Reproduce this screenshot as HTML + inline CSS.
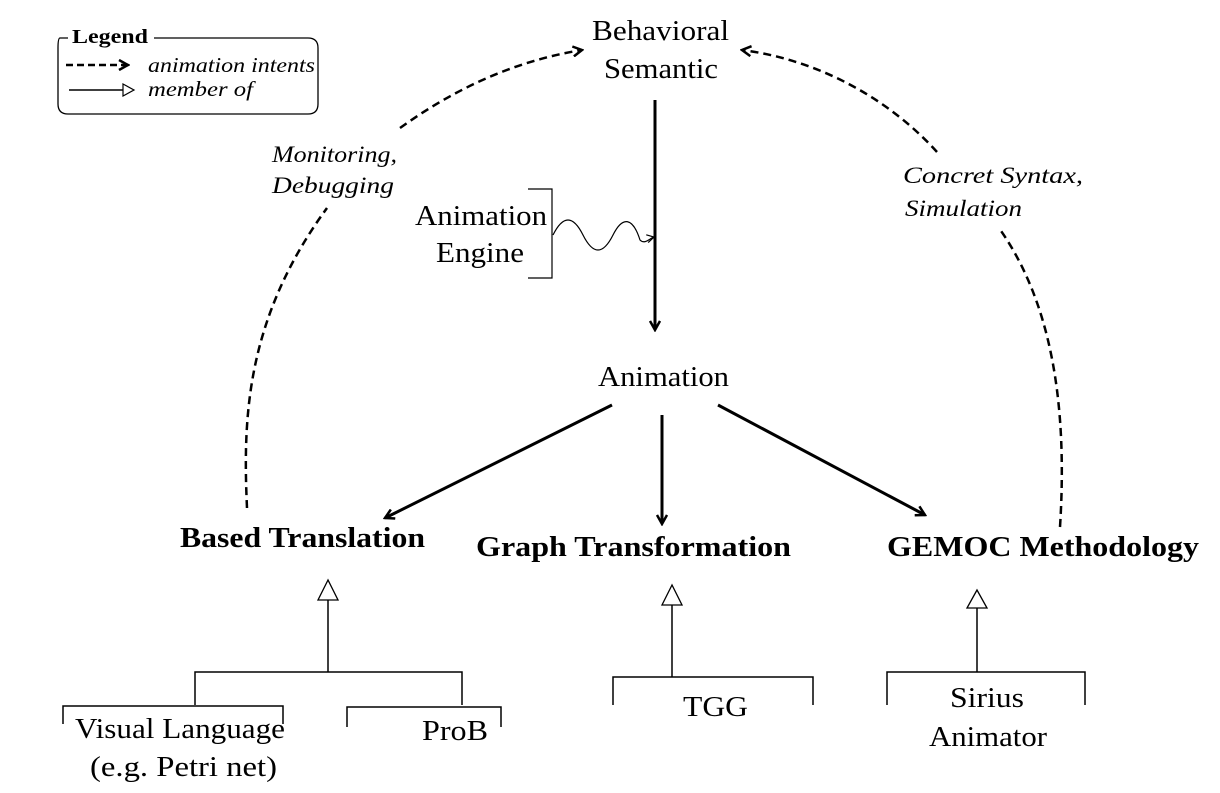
<!DOCTYPE html>
<html><head><meta charset="utf-8"><style>
html,body{margin:0;padding:0;background:#fff;}
svg{display:block;}
text{font-family:"Liberation Serif",serif;fill:#000;}
</style></head><body>
<svg width="1220" height="793" viewBox="0 0 1220 793" xmlns="http://www.w3.org/2000/svg">
<defs>
<marker id="open" markerWidth="12" markerHeight="12" refX="10" refY="6" orient="auto" markerUnits="userSpaceOnUse"><path d="M1,1 L10,6 L1,11" fill="none" stroke="#000" stroke-width="2.5"/></marker>
<marker id="small" markerWidth="10" markerHeight="10" refX="9" refY="5" orient="auto" markerUnits="userSpaceOnUse"><path d="M2,1 L9,5 L2,9" fill="none" stroke="#000" stroke-width="1.2"/></marker>
</defs>
<!-- Legend -->
<path d="M68,38 L60,38 Q58,38 58,48 L58,104 Q58,114 68,114 L308,114 Q318,114 318,104 L318,48 Q318,38 308,38 L154,38" fill="none" stroke="#000" stroke-width="1.3"/>
<text x="72" y="43" font-size="20" font-weight="bold" textLength="76" lengthAdjust="spacingAndGlyphs">Legend</text>
<line x1="66" y1="65" x2="128" y2="65" stroke="#000" stroke-width="2.5" stroke-dasharray="7,4" marker-end="url(#open)"/>
<line x1="69" y1="90" x2="123" y2="90" stroke="#000" stroke-width="1.5"/>
<path d="M123,84 L134,90 L123,96 Z" fill="#fff" stroke="#000" stroke-width="1.2"/>
<text x="148" y="72" font-size="21" font-style="italic" textLength="167" lengthAdjust="spacingAndGlyphs">animation intents</text>
<text x="148" y="96" font-size="21" font-style="italic" textLength="105" lengthAdjust="spacingAndGlyphs">member of</text>
<!-- Top -->
<text x="592" y="40" font-size="28" textLength="137" lengthAdjust="spacingAndGlyphs">Behavioral</text>
<text x="604" y="78" font-size="28" textLength="114" lengthAdjust="spacingAndGlyphs">Semantic</text>
<line x1="655" y1="100" x2="655" y2="330" stroke="#000" stroke-width="3" marker-end="url(#open)"/>
<text x="415" y="225" font-size="28" textLength="132" lengthAdjust="spacingAndGlyphs">Animation</text>
<text x="436" y="262" font-size="28" textLength="88" lengthAdjust="spacingAndGlyphs">Engine</text>
<path d="M528,189 L552,189 L552,278 L528,278" fill="none" stroke="#000" stroke-width="1.2"/>
<path d="M553,235 C563,215 573,215 583,235 C593,255 603,255 613,235 C623,215 633,218 640,240 C645,245 650,238 654,237" fill="none" stroke="#000" stroke-width="1.2" marker-end="url(#small)"/>
<text x="598" y="386" font-size="28" textLength="131" lengthAdjust="spacingAndGlyphs">Animation</text>
<line x1="612" y1="405" x2="385" y2="518" stroke="#000" stroke-width="3" marker-end="url(#open)"/>
<line x1="662" y1="415" x2="662" y2="524" stroke="#000" stroke-width="3" marker-end="url(#open)"/>
<line x1="718" y1="405" x2="925" y2="515" stroke="#000" stroke-width="3" marker-end="url(#open)"/>
<!-- dashed arcs -->
<path d="M247,508 C243,420 245,320 327,208" fill="none" stroke="#000" stroke-width="2.5" stroke-dasharray="8,5"/>
<path d="M400,128 C460,85 520,60 582,50" fill="none" stroke="#000" stroke-width="2.5" stroke-dasharray="8,5" marker-end="url(#open)"/>
<text x="272" y="162" font-size="23" font-style="italic" textLength="125" lengthAdjust="spacingAndGlyphs">Monitoring,</text>
<text x="272" y="193" font-size="23" font-style="italic" textLength="122" lengthAdjust="spacingAndGlyphs">Debugging</text>
<path d="M1060,527 C1068,400 1050,300 999,228" fill="none" stroke="#000" stroke-width="2.5" stroke-dasharray="8,5"/>
<path d="M937,152 C890,100 820,60 742,50" fill="none" stroke="#000" stroke-width="2.5" stroke-dasharray="8,5" marker-end="url(#open)"/>
<text x="903" y="183" font-size="23" font-style="italic" textLength="180" lengthAdjust="spacingAndGlyphs">Concret Syntax,</text>
<text x="905" y="216" font-size="23" font-style="italic" textLength="117" lengthAdjust="spacingAndGlyphs">Simulation</text>
<!-- categories -->
<text x="180" y="547" font-size="28" font-weight="bold" textLength="245" lengthAdjust="spacingAndGlyphs">Based Translation</text>
<text x="476" y="556" font-size="28" font-weight="bold" textLength="315" lengthAdjust="spacingAndGlyphs">Graph Transformation</text>
<text x="887" y="556" font-size="28" font-weight="bold" textLength="312" lengthAdjust="spacingAndGlyphs">GEMOC Methodology</text>
<!-- left tree -->
<path d="M328,580 L318,600 L338,600 Z" fill="#fff" stroke="#000" stroke-width="1.3"/>
<g stroke="#000" stroke-width="1.5" fill="none">
<line x1="328" y1="600" x2="328" y2="672"/>
<path d="M195,705 L195,672 L462,672 L462,705"/>
<path d="M63,724 L63,706 L283,706 L283,724"/>
<path d="M347,727 L347,707 L501,707 L501,727"/>
</g>
<text x="75" y="738" font-size="28" textLength="210" lengthAdjust="spacingAndGlyphs">Visual  Language</text>
<text x="90" y="776" font-size="28" textLength="187" lengthAdjust="spacingAndGlyphs">(e.g. Petri net)</text>
<text x="422" y="740" font-size="28" textLength="66" lengthAdjust="spacingAndGlyphs">ProB</text>
<!-- middle tree -->
<path d="M672,585 L662,605 L682,605 Z" fill="#fff" stroke="#000" stroke-width="1.3"/>
<g stroke="#000" stroke-width="1.5" fill="none">
<line x1="672" y1="605" x2="672" y2="677"/>
<path d="M613,705 L613,677 L813,677 L813,705"/>
<line x1="977" y1="608" x2="977" y2="672"/>
<path d="M887,705 L887,672 L1085,672 L1085,705"/>
</g>
<text x="683" y="716" font-size="28" textLength="65" lengthAdjust="spacingAndGlyphs">TGG</text>
<path d="M977,590 L967,608 L987,608 Z" fill="#fff" stroke="#000" stroke-width="1.3"/>
<text x="950" y="707" font-size="28" textLength="74" lengthAdjust="spacingAndGlyphs">Sirius</text>
<text x="929" y="746" font-size="28" textLength="118" lengthAdjust="spacingAndGlyphs">Animator</text>
</svg>
</body></html>
